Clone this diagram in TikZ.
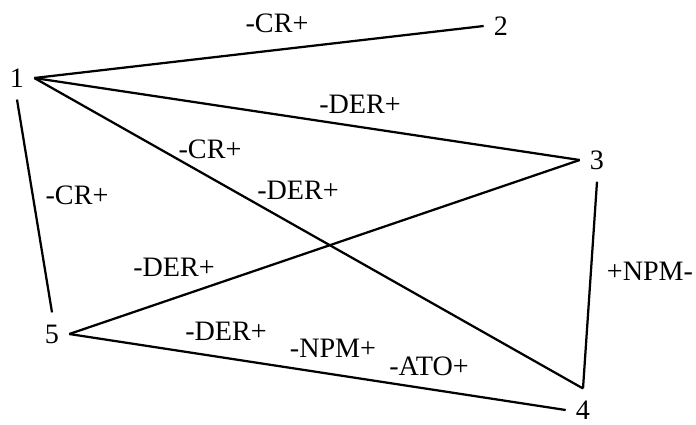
\documentclass[tikz,border=0pt]{standalone}
\usepackage{fontspec}
\setmainfont{Liberation Serif}
\begin{document}
\begin{tikzpicture}[x=0.025cm,y=-0.025cm,
    vtx/.style={inner xsep=0.25cm,inner ysep=0.3cm,font=\fontsize{20}{24}\selectfont},
    lbl/.style={inner sep=0pt,font=\fontsize{20}{24}\selectfont},
    link/.style={line width=1.6pt}]
  \useasboundingbox (0,0) rectangle (696,424);
  % vertices
  \node[vtx] (n1) at (17,78) {1};
  \node[vtx] (n2) at (501,26) {2};
  \node[vtx] (n3) at (597,160) {3};
  \node[vtx] (n4) at (583,410) {4};
  \node[vtx] (n5) at (52,334) {5};
  % links
  \draw[link] (n1.east) -- (n2.west);
  \draw[link] (n1.east) -- (n3.west);
  \draw[link] (n1.east) -- (n4.north);
  \draw[link] (n1.south) -- (n5.north);
  \draw[link] (n5.east) -- (n3.west);
  \draw[link] (n5.east) -- (n4.west);
  \draw[link] (n3.south) -- (n4.north);
  % labels
  \node[lbl] (cr12) at (277,23) {-CR+};
  \node[lbl] (der13) at (360,104) {-DER+};
  \node[lbl] (cr14) at (210,149) {-CR+};
  \node[lbl] (der14) at (298,190) {-DER+};
  \node[lbl] (cr15) at (77,195) {-CR+};
  \node[lbl] (der53) at (174,267) {-DER+};
  \node[lbl] (der54) at (226,331) {-DER+};
  \node[lbl] (npm54) at (333,348) {-NPM+};
  \node[lbl] (ato54) at (429,366) {-ATO+};
  \node[lbl] (npm34) at (650,271) {+NPM-};
\end{tikzpicture}
\end{document}
